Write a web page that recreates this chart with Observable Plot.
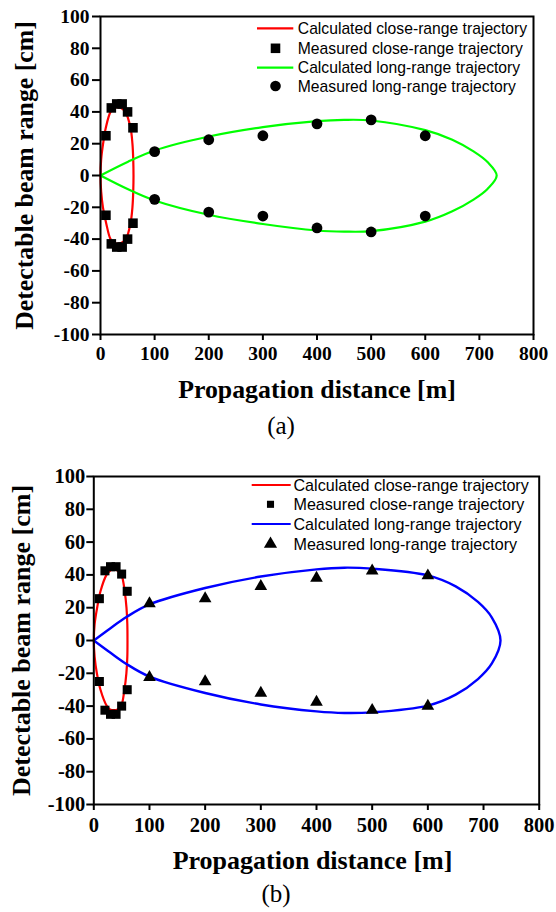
<!DOCTYPE html>
<html><head><meta charset="utf-8">
<script src="https://cdn.jsdelivr.net/npm/d3@7"></script>
<script src="https://cdn.jsdelivr.net/npm/@observablehq/plot@0.6"></script>
<style>
html,body{margin:0;padding:0;background:#fff;}
#root{position:relative;width:556px;height:912px;overflow:hidden;background:#fff;}
.panel{position:absolute;left:0;}
.cap{position:absolute;width:120px;text-align:center;font-family:"Liberation Serif","Times New Roman",serif;font-size:25px;line-height:25px;color:#000;}
#legend{position:absolute;left:0;top:0;pointer-events:none;}
</style></head><body><div id="root"></div>
<script>
// ---------- texts / ticks ----------
const xTicks = [0, 100, 200, 300, 400, 500, 600, 700, 800];
const yTicks = [-100, -80, -60, -40, -20, 0, 20, 40, 60, 80, 100];
const xTitle = "Propagation distance [m]";
const yTitle = "Detectable beam range [cm]";
const captions = ["(a)", "(b)"];
const legendLabels = [
  "Calculated close-range trajectory",
  "Measured close-range trajectory",
  "Calculated long-range trajectory",
  "Measured long-range trajectory"
];

// ---------- measured close-range (squares) ----------
const closeX = [10, 20, 30, 40, 50, 60];
const closeUpperA = [25, 42.5, 45, 45, 40, 30];
const closeLowerA = [-25, -43, -45, -45, -40, -30];
const closeUpperB = [25.5, 42.5, 45, 45, 40.5, 30];
const closeLowerB = [-25, -42.5, -45, -45, -40, -30];

// ---------- measured long-range (circles in a, triangles in b) ----------
const longX = [100, 200, 300, 400, 500, 600];
const longUpperA = [15, 22.5, 25, 32.5, 35, 25];
const longLowerA = [-15, -23, -25.5, -33, -35.5, -25.5];
const longUpperB = [22.5, 25.5, 33, 38, 42.5, 39.5];
const longLowerB = [-22.5, -25, -32, -37.5, -42.5, -40];

// ---------- calculated close-range loop (red) ----------
const redAx = [0, 1.2, 4.8, 9.8, 18.5, 25, 32, 39, 46, 55.5, 59, 60.5, 61, 60.5, 59, 55.5, 47, 39, 32, 25, 18.5, 10.5, 4.5, 1.2];
const redAy = [0, 10, 20, 30, 40, 42.3, 43, 42.3, 40, 30, 20, 10, 0, -10, -20, -30, -40, -42.3, -43, -42.3, -40, -30, -20, -10];
const redBx = [0, 1.5, 6, 12, 22.8, 29, 36, 43, 49.7, 55.5, 58.7, 60.2, 60.5, 60.2, 58.5, 55, 49.2, 43, 36, 29, 23.5, 12, 5.5, 1.5];
const redBy = [0, 10, 20, 30, 40, 42.5, 43.5, 42.5, 40, 30, 20, 10, 0, -10, -20, -30, -40, -42, -42.5, -42, -40, -30, -20, -10];

// ---------- calculated long-range (green in a, blue in b) ----------
const greenX = [0, 50, 100, 200, 300, 400, 450, 500, 600, 650, 690, 715, 732];
const greenUpper = [0, 8.5, 15.7, 24.5, 30.4, 34.2, 35, 34.6, 28.5, 22.5, 15, 8.5, 0];
const greenLower = [0, -8.5, -15.7, -24.7, -30.5, -34.6, -35.3, -35, -29, -22.5, -15, -8.5, 0];
const blueX = [0, 30, 58.6, 100, 200, 300, 400, 450, 500, 600, 650, 690, 715, 730.5];
const blueUpper = [0, 7.5, 14.3, 22, 32, 39, 43.4, 44.4, 43.8, 39.7, 33, 23.5, 14, 0];
const blueLower = [0, -7.5, -14.3, -22, -32, -39, -43.2, -44.2, -43.8, -39.7, -33, -23.5, -14, 0];

// ---------- helpers ----------
const pts = (xs, ys) => xs.map((x, i) => ({x, y: ys[i]}));
const loop = (xs, up, lo) => pts(xs, up).concat(pts(xs, lo).reverse().slice(1));
const SERIF = "Liberation Serif, Times New Roman, serif";

function panel(c) {
  return Plot.plot({
    width: 556, height: c.height,
    marginTop: c.mt, marginBottom: c.mb, marginLeft: c.ml, marginRight: c.mr,
    x: {domain: [0, 800], label: null},
    y: {domain: [-100, 100], label: null},
    style: {fontFamily: SERIF, fontSize: c.tickFont + "px", fontWeight: "bold", background: "transparent", color: "black", overflow: "visible"},
    marks: [
      Plot.line(c.redLoop, {x: "x", y: "y", stroke: "#ff0000", strokeWidth: 2.2, curve: "catmull-rom-closed"}),
      Plot.line(c.longLoop, {x: "x", y: "y", stroke: c.longColor, strokeWidth: c.longWidth, curve: "catmull-rom"}),
      Plot.dot(c.closePts, {x: "x", y: "y", symbol: "square", r: c.sqR, fill: "black"}),
      Plot.dot(c.longPts, {x: "x", y: "y", symbol: c.longSym, r: c.longR, fill: "black"}),
      Plot.frame({stroke: "black", strokeWidth: 2}),
      Plot.axisX(xTicks, {tickSize: 6, tickPadding: c.xpad, strokeWidth: 2, fontSize: c.tickFont, fontWeight: "bold", label: null, tickFormat: d => String(d)}),
      Plot.axisY(yTicks, {tickSize: c.ytick, tickPadding: c.ypad, strokeWidth: 2, fontSize: c.tickFont, fontWeight: "bold", label: null, tickFormat: d => String(d)}),
      Plot.text([xTitle], {text: d => d, frameAnchor: "bottom", textAnchor: "middle", dy: 55.7, dx: c.titleDx, lineAnchor: "middle", fontSize: c.titleFont, fontWeight: "bold"}),
      Plot.text([yTitle], {text: d => d, frameAnchor: "left", textAnchor: "middle", dx: c.yTitleDx, rotate: -90, lineAnchor: "middle", fontSize: c.titleFont, fontWeight: "bold"})
    ]
  });
}

const root = document.getElementById("root");
const cfgs = [
  {top: 0, height: 410, mt: 16, mb: 76, ml: 100, mr: 23, tickFont: 19.5, titleFont: 25.8, xpad: 6, ytick: 8, ypad: 3,
   titleDx: 0, yTitleDx: -75.6,
   redLoop: pts(redAx, redAy), longLoop: loop(greenX, greenUpper, greenLower), longColor: "#00ff00", longWidth: 2.2,
   closePts: pts(closeX, closeUpperA).concat(pts(closeX, closeLowerA)),
   longPts: pts(longX, longUpperA).concat(pts(longX, longLowerA)), longSym: "circle", sqR: 5.4, longR: 5.4,
   cap: {x: 281, top: 413.4}},
  {top: 460, height: 416, mt: 16, mb: 72, ml: 93.3, mr: 17.3, tickFont: 20.5, titleFont: 26, xpad: 7, ytick: 7, ypad: 1.5,
   titleDx: -4, yTitleDx: -72,
   redLoop: pts(redBx, redBy), longLoop: loop(blueX, blueUpper, blueLower), longColor: "#0000ff", longWidth: 2.4,
   closePts: pts(closeX, closeUpperB).concat(pts(closeX, closeLowerB)),
   longPts: pts(longX, longUpperB).concat(pts(longX, longLowerB)), longSym: "triangle", sqR: 5.1, longR: 4.7,
   cap: {x: 276, top: 881.4}}
];

cfgs.forEach((c, i) => {
  const d = document.createElement("div");
  d.className = "panel";
  d.style.top = c.top + "px";
  d.appendChild(panel(c));
  root.appendChild(d);
  const cap = document.createElement("div");
  cap.className = "cap";
  cap.style.left = (c.cap.x - 60) + "px";
  cap.style.top = c.cap.top + "px";
  cap.textContent = captions[i];
  root.appendChild(cap);
});

// ---------- legends (overlay) ----------
const legends = [
  {rows: [28.3, 48.3, 67.7, 86], x0: 257, x1: 293.3, mx: 275.5, tx: 297.8, fs: 15.7,
   items: [{t: "line", c: "#ff0000"}, {t: "square", r: 5.4}, {t: "line", c: "#00ff00"}, {t: "circle", r: 5.3}]},
  {rows: [485, 504.3, 524, 544], x0: 251.7, x1: 290.7, mx: 270.5, tx: 293.5, fs: 16.1,
   items: [{t: "line", c: "#ff0000"}, {t: "square", r: 4}, {t: "line", c: "#0000ff"}, {t: "triangle", r: 4.9}]}
];
const svg = d3.select(root).append("svg").attr("id", "legend").attr("width", 556).attr("height", 912);
const symMap = {square: d3.symbolSquare, circle: d3.symbolCircle, triangle: d3.symbolTriangle};
legends.forEach(L => {
  L.items.forEach((it, k) => {
    const y = L.rows[k];
    if (it.t === "line") {
      svg.append("line").attr("x1", L.x0).attr("x2", L.x1).attr("y1", y).attr("y2", y)
        .attr("stroke", it.c).attr("stroke-width", 2.2);
    } else {
      svg.append("path").attr("d", d3.symbol(symMap[it.t], Math.PI * it.r * it.r)())
        .attr("transform", `translate(${L.mx},${y})`).attr("fill", "black");
    }
    svg.append("text").attr("x", L.tx).attr("y", y).attr("dy", "0.36em")
      .attr("font-family", "Liberation Sans, Arial, sans-serif").attr("font-size", L.fs)
      .attr("fill", "black").text(legendLabels[k]);
  });
});
</script></body></html>
